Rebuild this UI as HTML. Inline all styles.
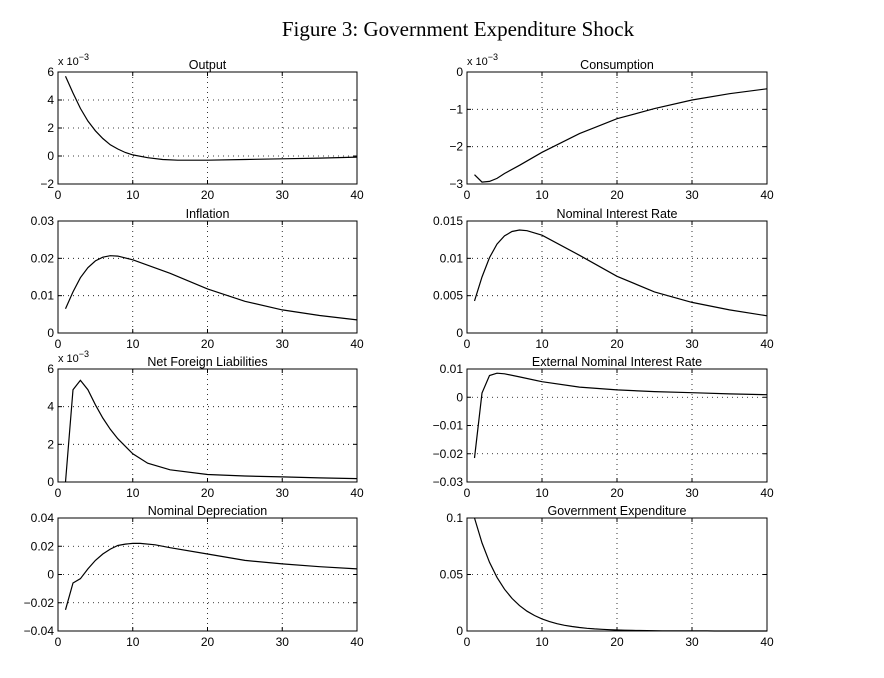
<!DOCTYPE html>
<html><head><meta charset="utf-8"><style>
body{margin:0;background:#fff;width:884px;height:678px;overflow:hidden}
svg{display:block}
</style></head><body>
<svg id="s" width="884" height="678" xmlns="http://www.w3.org/2000/svg" font-family="Liberation Sans, sans-serif">
<text x="458" y="36" font-family="Liberation Serif, serif" font-size="21" text-anchor="middle">Figure 3: Government Expenditure Shock</text>
</svg>
<script>
const s=document.getElementById('s');
const NS='http://www.w3.org/2000/svg';
function el(t,a,txt){const e=document.createElementNS(NS,t);for(const k in a)e.setAttribute(k,a[k]);if(txt!==undefined)e.textContent=txt;s.appendChild(e);return e;}
function panel(x0,x1,y0,y1,ymin,ymax,ticks,labels,title,pts,exp){
  const X=t=>x0+(t/40)*(x1-x0), Y=v=>y1-(v-ymin)/(ymax-ymin)*(y1-y0);
  // grid
  [10,20,30].forEach(t=>el('line',{x1:X(t),x2:X(t),y1:y0,y2:y1,stroke:'#000','stroke-width':0.8,'stroke-dasharray':'1,4'}));
  ticks.forEach(v=>{const y=Y(v); if(Math.abs(y-y0)>1&&Math.abs(y-y1)>1) el('line',{x1:x0,x2:x1,y1:y,y2:y,stroke:'#000','stroke-width':0.8,'stroke-dasharray':'1,4'});});
  el('rect',{x:x0,y:y0,width:x1-x0,height:y1-y0,fill:'none',stroke:'#000','stroke-width':1});
  // ticks
  [0,10,20,30,40].forEach(t=>{el('line',{x1:X(t),x2:X(t),y1:y1,y2:y1-4,stroke:'#000'});el('line',{x1:X(t),x2:X(t),y1:y0,y2:y0+4,stroke:'#000'});
    el('text',{x:X(t),y:y1+15,'font-size':12,'text-anchor':'middle'},String(t));});
  ticks.forEach((v,i)=>{const y=Y(v);el('line',{x1:x0,x2:x0+4,y1:y,y2:y,stroke:'#000'});el('line',{x1:x1,x2:x1-4,y1:y,y2:y,stroke:'#000'});
    el('text',{x:x0-4,y:y+4,'font-size':12,'text-anchor':'end'},labels[i]);});
  el('text',{x:(x0+x1)/2,y:y0-3,'font-size':12.5,'text-anchor':'middle'},title);
  if(exp){const t=el('text',{x:x0,y:y0-7,'font-size':11},'x 10');const ts=document.createElementNS(NS,'tspan');ts.setAttribute('dy','-5');ts.setAttribute('font-size','9');ts.textContent='\u22123';t.appendChild(ts);}
  el('polyline',{points:pts.map(p=>X(p[0]).toFixed(1)+','+Y(p[1]).toFixed(1)).join(' '),fill:'none',stroke:'#000','stroke-width':1.2});
}
const m='\u2212';
const L=[58,357],R=[467,767];
panel(L[0],L[1],72,184,-2,6,[-2,0,2,4,6],[m+'2','0','2','4','6'],'Output',
 [[1,5.7],[2,4.5],[3,3.4],[4,2.5],[5,1.8],[6,1.25],[7,0.8],[8,0.5],[9,0.25],[10,0.08],[12,-0.12],[14,-0.25],[16,-0.3],[20,-0.3],[25,-0.25],[30,-0.2],[35,-0.15],[40,-0.08]],true);
panel(R[0],R[1],72,184,-3,0,[-3,-2,-1,0],[m+'3',m+'2',m+'1','0'],'Consumption',
 [[1,-2.75],[2,-2.95],[3,-2.93],[4,-2.85],[5,-2.72],[7,-2.5],[10,-2.15],[15,-1.65],[20,-1.25],[25,-0.98],[30,-0.75],[35,-0.58],[40,-0.45]],true);
panel(L[0],L[1],221,333,0,0.03,[0,0.01,0.02,0.03],['0','0.01','0.02','0.03'],'Inflation',
 [[1,.0065],[2,.011],[3,.0148],[4,.0175],[5,.0193],[6,.0203],[7,.0207],[8,.0206],[10,.0196],[15,.016],[20,.0118],[25,.0085],[30,.0062],[35,.0047],[40,.0035]]);
panel(R[0],R[1],221,333,0,0.015,[0,0.005,0.01,0.015],['0','0.005','0.01','0.015'],'Nominal Interest Rate',
 [[1,.0043],[2,.0075],[3,.0101],[4,.0119],[5,.013],[6,.0136],[7,.0138],[8,.0137],[10,.0131],[15,.0104],[20,.0076],[25,.0055],[30,.0041],[35,.0031],[40,.0023]]);
panel(L[0],L[1],369,482,0,6,[0,2,4,6],['0','2','4','6'],'Net Foreign Liabilities',
 [[1,0],[2,4.9],[3,5.4],[4,4.9],[5,4.1],[6,3.4],[7,2.8],[8,2.3],[10,1.5],[12,1.0],[15,0.65],[20,0.4],[25,0.32],[30,0.27],[35,0.22],[40,0.18]],true);
panel(R[0],R[1],369,482,-0.03,0.01,[-0.03,-0.02,-0.01,0,0.01],[m+'0.03',m+'0.02',m+'0.01','0','0.01'],'External Nominal  Interest Rate',
 [[1,-.0215],[2,.0015],[3,.0077],[4,.0085],[5,.0083],[7,.0072],[10,.0055],[15,.0036],[20,.0026],[25,.002],[30,.0016],[35,.0012],[40,.0009]]);
panel(L[0],L[1],518,631,-0.04,0.04,[-0.04,-0.02,0,0.02,0.04],[m+'0.04',m+'0.02','0','0.02','0.04'],'Nominal  Depreciation',
 [[1,-.025],[2,-.006],[3,-.003],[4,.004],[5,.01],[6,.0145],[7,.018],[8,.0205],[9,.0215],[10,.022],[11,.022],[13,.021],[15,.019],[20,.0145],[25,.01],[30,.0075],[35,.0055],[40,.004]]);
const g=[];for(let t=1;t<=40;t++)g.push([t,0.1*Math.pow(0.78,t-1)]);
panel(R[0],R[1],518,631,0,0.1,[0,0.05,0.1],['0','0.05','0.1'],'Government Expenditure',g);
</script>
</body></html>
